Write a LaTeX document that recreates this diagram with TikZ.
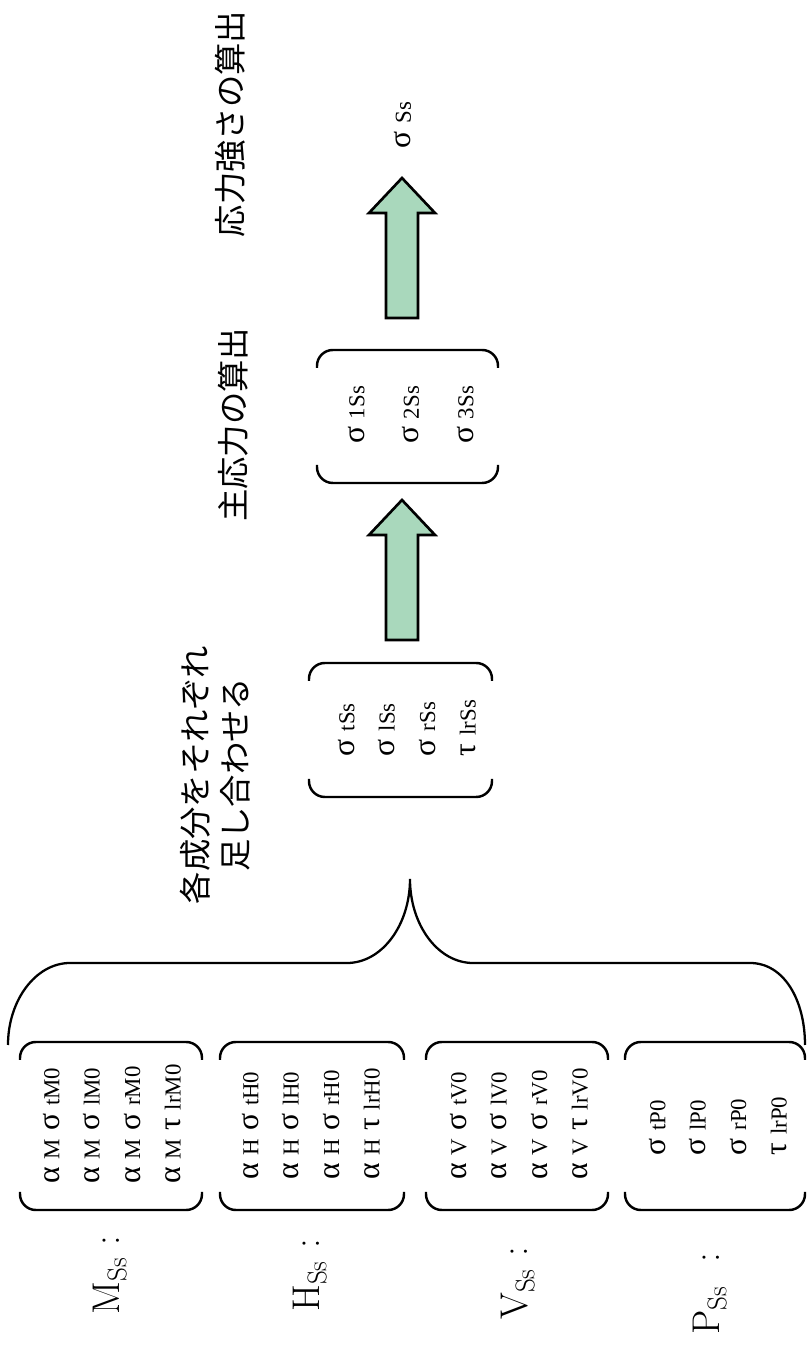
\documentclass[tikz,border=0pt]{standalone}
\usepackage{fontspec}
\newfontfamily\jpfont{Noto Sans CJK JP}
\newfontfamily\tmsfont{Liberation Serif}
\usepackage{xcolor}
\definecolor{arrowgreen}{RGB}{169,216,188}
\tikzset{
    bracket/.style={line width=1.4pt, rounded corners=9pt},
    brace line/.style={line width=1.3pt},
    fat arrow/.style={draw, line width=1.5pt, fill=arrowgreen, line join=miter},
    jp label/.style={font=\jpfont\fontsize{18.4}{22.7}\selectfont, align=center, inner sep=0pt},
    term list/.style={font=\tmsfont\fontsize{18}{23}\selectfont, align=left, inner sep=0pt},
    comp label/.style={font=\fontsize{22}{26}\selectfont, inner sep=0pt, anchor=base west}
}
\newcommand\subtx[1]{{\fontsize{13}{13}\selectfont #1}}
% pair of round brackets: u left, u right, v low, v high
\newcommand\bracketpair[4]{%
    \draw[bracket] (#1+18,#3) -- (#1,#3) -- (#1,#4) -- (#1+18,#4);
    \draw[bracket] (#2-18,#3) -- (#2,#3) -- (#2,#4) -- (#2-18,#4);}
\newcommand\fatarrow[1]{%
    \draw[fat arrow] (#1,388) -- ++(105,0) -- ++(0,-17) -- ++(35,33) -- ++(-35,33) -- ++(0,-17) -- ++(-105,0) -- cycle;}

\begin{document}
\begin{tikzpicture}[x=0.02cm, y=0.02cm, rotate=90, transform shape]
    \useasboundingbox (0,0) rectangle (1345,806);

    % component labels
    \node[comp label] (mlab) at (30,686) {M\textsubscript{Ss} :};
    \node[comp label] (hlab) at (33,486) {H\textsubscript{Ss} :};
    \node[comp label] (vlab) at (25,278) {V\textsubscript{Ss} :};
    \node[comp label] (plab) at (10,86) {P\textsubscript{Ss}\ \ :};

    % component groups
    \bracketpair{135}{303}{604}{786}
    \bracketpair{135}{303}{402}{586}
    \bracketpair{135}{303}{198}{380}
    \bracketpair{135}{303}{1}{181}
    \node[term list] (mterms) at (221,694) {α \subtx{M} σ \subtx{tM0}\\ α \subtx{M} σ \subtx{lM0}\\ α \subtx{M} σ \subtx{rM0}\\ α \subtx{M} τ \subtx{lrM0}};
    \node[term list] (hterms) at (221,495) {α \subtx{H} σ \subtx{tH0}\\ α \subtx{H} σ \subtx{lH0}\\ α \subtx{H} σ \subtx{rH0}\\ α \subtx{H} τ \subtx{lrH0}};
    \node[term list] (vterms) at (221,287) {α \subtx{V} σ \subtx{tV0}\\ α \subtx{V} σ \subtx{lV0}\\ α \subtx{V} σ \subtx{rV0}\\ α \subtx{V} τ \subtx{lrV0}};
    \node[term list] (pterms) at (219,88) {σ \subtx{tP0}\\ σ \subtx{lP0}\\ σ \subtx{rP0}\\ τ \subtx{lrP0}};

    % big brace
    \draw[brace line] (300,798) .. controls (345,798) and (382,770) .. (382,736) -- (382,459)
        .. controls (382,424) and (420,396) .. (466,396)
        .. controls (420,396) and (382,368) .. (382,333) -- (382,56)
        .. controls (382,22) and (345,1) .. (300,1);
    \node[jp label] (sumlab) at (570,591) {各成分をそれぞれ\\足し合わせる};

    % summed stresses
    \bracketpair{548}{682}{314}{497}
    \node[term list] (sumterms) at (617,399) {σ \subtx{tSs}\\ σ \subtx{lSs}\\ σ \subtx{rSs}\\ τ \subtx{lrSs}};

    \fatarrow{705}

    % principal stresses
    \node[jp label] (prinlab) at (920,573) {主応力の算出};
    \bracketpair{862}{995}{308}{489}
    \node[term list, font=\tmsfont\fontsize{18}{31}\selectfont] (printerms) at (930,395) {σ \subtx{1Ss}\\ σ \subtx{2Ss}\\ σ \subtx{3Ss}};

    \fatarrow{1027}

    % stress intensity
    \node[jp label] (intlab) at (1221,576) {応力強さの算出};
    \node[term list] (intterm) at (1220,403) {σ \subtx{Ss}};
\end{tikzpicture}
\end{document}
